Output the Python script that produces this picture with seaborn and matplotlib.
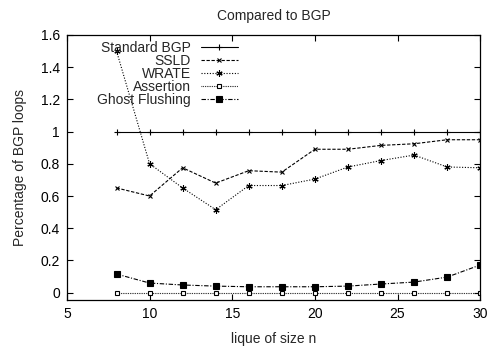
"""Recreate the 'Compared to BGP' loop-percentage chart."""

import matplotlib

matplotlib.use("Agg")

import matplotlib.pyplot as plt
import pandas as pd
import seaborn as sns

clique_size = [8, 10, 12, 14, 16, 18, 20, 22, 24, 26, 28, 30]
standard_bgp = [1.0] * 12
ssld = [0.65, 0.60, 0.775, 0.68, 0.757, 0.748, 0.89, 0.89, 0.914, 0.924, 0.949, 0.949]
wrate = [1.5, 0.80, 0.65, 0.515, 0.665, 0.665, 0.705, 0.78, 0.82, 0.854, 0.78, 0.775]
assertion = [0.0] * 12
ghost_flushing = [0.116, 0.06, 0.048, 0.041, 0.037, 0.037, 0.037, 0.041, 0.054, 0.066, 0.097, 0.172]

series = {
    "Standard BGP": standard_bgp,
    "SSLD": ssld,
    "WRATE": wrate,
    "Assertion": assertion,
    "Ghost Flushing": ghost_flushing,
}
styles = {
    "Standard BGP": dict(linestyle="-", marker="+", markersize=5),
    "SSLD": dict(linestyle=(0, (3, 1.5)), marker="x", markersize=3.5),
    "WRATE": dict(linestyle=(0, (1, 1.5)), marker=(6, 2, 0), markersize=4.5),
    "Assertion": dict(linestyle=(0, (0.7, 0.9)), marker="s", markersize=3.5, markerfacecolor="white"),
    "Ghost Flushing": dict(linestyle=(0, (4, 1.5, 1, 1.5)), marker="s", markersize=4.5),
}

sns.set_style("ticks")
plt.rcParams["font.family"] = ["Liberation Sans", "DejaVu Sans"]
plt.rcParams["font.size"] = 10

fig = plt.figure(figsize=(4.92, 3.48), dpi=100)
ax = fig.add_axes([0.136, 0.138, 0.840, 0.762])

for name, values in series.items():
    df = pd.DataFrame({"n": clique_size, "value": values})
    sns.lineplot(
        data=df, x="n", y="value", ax=ax, color="black", linewidth=0.8,
        markeredgewidth=0.8, markeredgecolor="black", label=name, **styles[name],
    )

ax.set_xlim(5, 30)
ax.set_ylim(-0.045, 1.6)
ax.set_xticks([5, 10, 15, 20, 25, 30])
ax.set_yticks([0, 0.2, 0.4, 0.6, 0.8, 1, 1.2, 1.4, 1.6])
ax.set_yticklabels(["0", "0.2", "0.4", "0.6", "0.8", "1", "1.2", "1.4", "1.6"])
ax.tick_params(direction="in", length=4, width=0.8, top=True, right=True,
               labelsize=10, colors="black", pad=5)
for spine in ax.spines.values():
    spine.set_linewidth(0.9)
    spine.set_color("black")

ax.set_title("Compared to BGP", fontsize=10, pad=11)
ax.set_xlabel("lique of size n", fontsize=10, labelpad=8)
ax.set_ylabel("Percentage of BGP loops", fontsize=10, labelpad=10)

# markerfirst=False puts text left of the sample and right-aligns the labels
ax.legend(loc="upper right", bbox_to_anchor=(0.414, 0.978), markerfirst=False,
          frameon=False, handlelength=2.7, handletextpad=0.7, labelspacing=-0.06,
          borderpad=0, borderaxespad=0, fontsize=10)

fig.savefig("out.png", dpi=100)
